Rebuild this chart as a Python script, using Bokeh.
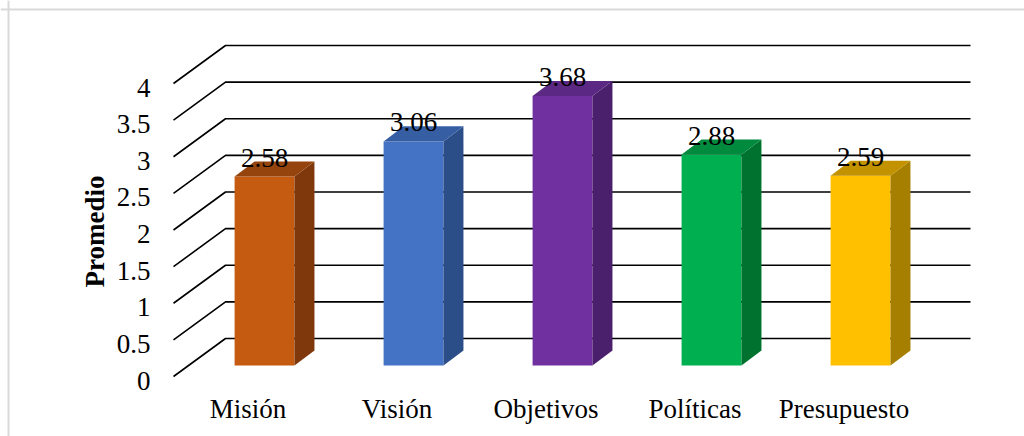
import math
from bokeh.plotting import figure
from bokeh.models import Range1d, Label, Span
from bokeh.embed import file_html
from bokeh.resources import INLINE

# ---- data ----
categories = ["Misión", "Visión", "Objetivos", "Políticas", "Presupuesto"]
values = [2.58, 3.06, 3.68, 2.88, 2.59]
value_labels = ["2.58", "3.06", "3.68", "2.88", "2.59"]
tick_values = [0, 0.5, 1, 1.5, 2, 2.5, 3, 3.5, 4]
tick_labels = ["0", "0.5", "1", "1.5", "2", "2.5", "3", "3.5", "4"]
y_title = "Promedio"

# ---- style ----
front_colors = ["#C55A11", "#4472C4", "#7030A0", "#00B050", "#FFC000"]
side_colors = ["#7F380C", "#2C4E88", "#4A1F6B", "#00722F", "#A67F00"]
top_colors = ["#95440E", "#365FA3", "#5B2883", "#008A3E", "#C29200"]
FONT = "Liberation Serif"
FS = "27px"

# 3D projection constants (in data units)
GX, GY = -0.349, -0.519      # floor depth (wall -> front edge)
BX, BY = -0.104, -0.164      # bar back face offset
FX, FY = -0.238, -0.369      # bar front face offset
HW = 0.201                   # bar half width

n = len(categories)
p = figure(width=1024, height=436, output_backend="svg", toolbar_location=None,
           x_range=Range1d(-1.5101, 5.3624), y_range=Range1d(-1.3379, 4.6143),
           x_axis_type=None, y_axis_type=None, min_border=0,
           background_fill_color="white", border_fill_color="white",
           outline_line_color=None)
p.grid.visible = False

# chart border (top and left visible in the window)
p.add_layout(Span(location=427, location_units="screen", dimension="width",
                  line_color="#D9D9D9", line_width=2))
p.add_layout(Span(location=8, location_units="screen", dimension="height",
                  line_color="#D9D9D9", line_width=2))

# gridlines (back wall + side diagonals)
gxs = [[GX, 0, n] for v in tick_values]
gys = [[v + GY, v, v] for v in tick_values]
p.multi_line(gxs, gys, line_color="black", line_width=1.6)

# bars
centers = [i + 0.5 for i in range(n)]
p.quad(left=[c + FX - HW for c in centers], right=[c + FX + HW for c in centers],
       bottom=[FY] * n, top=[v + FY for v in values],
       fill_color=front_colors, line_color=None)
side_x = [[c + FX + HW, c + BX + HW, c + BX + HW, c + FX + HW] for c in centers]
side_y = [[FY, BY, v + BY, v + FY] for v in values]
p.patches(side_x, side_y, fill_color=side_colors, line_color=None)
top_x = [[c + FX - HW, c + BX - HW, c + BX + HW, c + FX + HW] for c in centers]
top_y = [[v + FY, v + BY, v + BY, v + FY] for v in values]
p.patches(top_x, top_y, fill_color=top_colors, line_color=None)

common = dict(text_font=FONT, text_font_size=FS, text_color="black")

# value labels
for c, v, t in zip(centers, values, value_labels):
    p.add_layout(Label(x=c + FX, y=v + FY, text=t, text_align="center",
                       text_baseline="alphabetic", y_offset=19, **common))

# category labels
for c, t in zip(centers, categories):
    p.add_layout(Label(x=c + GX, y=GY, text=t, text_align="center",
                       text_baseline="middle", y_offset=-32, **common))

# tick labels
for v, t in zip(tick_values, tick_labels):
    p.add_layout(Label(x=GX, y=v + GY, text=t, text_align="right",
                       text_baseline="middle", x_offset=-23, y_offset=-4, **common))

# axis title
p.add_layout(Label(x=-0.879, y=1.461, text=y_title, angle=math.pi / 2,
                   text_align="center", text_baseline="middle",
                   text_font_style="bold", **common))

open("out.html", "w").write(file_html(p, INLINE))
